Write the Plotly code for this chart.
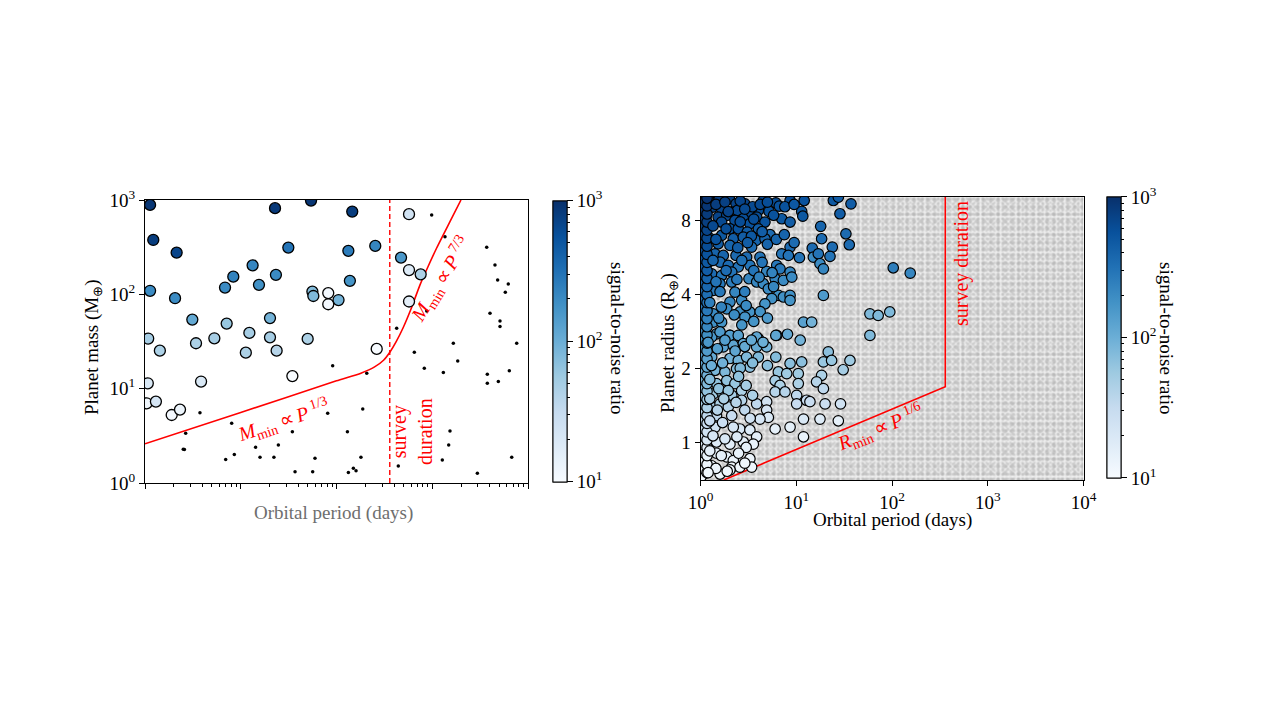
import numpy as np
import plotly.graph_objects as go
import plotly.colors as pc

W, H = 1282, 717          # browser window
PAD = 8                   # default page margin of the html body
FW, FH = W - 2 * PAD, H - 2 * PAD
FONT = "Liberation Serif"
BLUES = pc.sequential.Blues

# ---- left panel: mass vs period (detected planets, coloured by SNR) ----
period_l = [1.13, 1.22, 2.14, 1.13, 2.06, 3.12, 6.85, 8.36, 13.3, 15.5, 23.3, 22.8,
            31.4, 54.2, 56.0, 57.3, 82.0, 82.0, 105, 133, 138, 146, 254, 572, 472,
            572, 757, 572, 1.08, 20.2, 7.13, 12.3, 20.2, 50.0, 1.43, 3.41, 5.3,
            11.3, 23.7, 263, 34.6, 3.85, 1.07, 1.04, 1.30, 1.9, 2.32]
mass_l = [887, 377, 277, 109, 91, 54, 118, 154, 203, 126, 161, 819,
          313, 985, 107, 96, 103, 78.5, 87, 289, 139, 753, 326, 707, 245,
          181, 163, 84, 34, 56, 49, 39, 35, 33.7, 25.3, 30.3, 34.2,
          24.1, 25.3, 26.4, 13.6, 11.9, 11.4, 7.0, 7.3, 5.26, 6.0]
snr_l = [900, 800, 700, 200, 200, 110, 200, 230, 220, 180, 200, 850,
         300, 900, 75, 80, 11, 11, 90, 260, 170, 800, 220, 25, 160,
         18, 45, 16, 50, 90, 60, 50, 50, 45, 45, 45, 50,
         45, 40, 10, 10, 20, 20, 12, 22, 11, 13]

# undetected planets (small black points)
period_u = [2.66, 2.51, 2.58, 3.75, 6.96, 8.04, 8.57, 14.3, 15.9, 22.2, 24.7, 34.6,
            36.9, 56.4, 59.6, 80.9, 91.2, 130, 133, 150, 160, 180, 188, 207,
            442, 650, 826, 1274, 1306, 1485, 1532, 1660, 1845, 2958, 3760, 3760,
            4900, 6380, 6760, 7620, 986, 1358, 3705, 4519, 4820, 6220, 5793, 875,
            425, 4010, 5100, 5100]
mass_u = [3.37, 2.28, 2.27, 5.56, 1.78, 4.3, 2.01, 2.39, 1.87, 1.87, 2.53, 3.5,
          1.32, 1.32, 1.83, 5.48, 17.5, 3.5, 1.29, 1.43, 1.35, 1.87, 6.1, 14.6,
          1.51, 24.3, 16.5, 1.75, 14.8, 2.53, 3.56, 30.3, 19.7, 1.27, 14.2, 11.4,
          11.9, 15.5, 1.87, 30.3, 695, 409, 316, 205, 142, 129, 105, 66.7,
          43.7, 63, 52, 45.5]

# detection limit
limit_p = [1, 10, 100, 180, 250, 310, 362, 420, 495, 600, 745, 900, 1112, 1531, 1995]
limit_m = [2.6, 5.6, 12.1, 14.6, 17.0, 20.0, 24.5, 31.5, 44, 70, 126, 195, 310, 590, 1000]
survey_days = 360

# ---- right panel: radius vs period ----
period_r = [1.24, 1.56, 2.0, 2.35, 2.91, 4.53, 6.12, 8.62, 12.1, 24.4, 27.5, 37.3,
            1.11, 1.34, 1.66, 2.12, 2.43, 3.23, 4.02, 5.2, 6.65, 11.4, 11.7, 28.6,
            1.14, 1.53, 1.88, 2.8, 3.86, 4.71,
            1.21, 1.66, 2.29, 3.28, 7.05, 8.62, 18.0, 1.07, 2.03, 2.48, 3.08, 4.02,
            5.33, 33.0,
            1.24, 1.66, 2.2, 2.8, 3.8, 4.71, 18.4, 35.8, 1.11, 1.53, 2.03, 3.42,
            8.62, 14.7, 23.8,
            1.16, 1.42, 1.73, 2.35, 3.03, 4.18, 7.05, 8.28, 10.8, 15.1, 17.0, 22.5,
            6.25, 17.7, 19.2, 1.21, 1.60, 1.95, 2.48, 3.28, 4.91, 6.77, 8.62, 103,
            155,
            1.07, 1.31, 1.66, 2.12, 3.21, 3.86, 4.53, 5.11, 6.02, 7.34, 8.98, 1.21,
            1.60, 2.12,
            1.36, 2.29, 6.5, 7.34, 8.62, 19.2, 1.07, 2.03, 2.69, 5.55, 8.62,
            1.07, 1.36, 1.88, 2.58, 3.28, 2.91, 4.71, 1.36, 1.66, 11.9, 14.5, 58.8,
            71.7, 94.8, 1.07, 1.47, 2.03, 4.02, 6.25, 11.0,
            1.07, 1.31, 1.60, 2.03, 2.48, 3.86, 6.12, 8.1, 58.8, 1.21, 1.73, 2.20,
            2.80, 3.86, 4.91, 21.6, 1.03,
            1.31, 2.03, 2.48, 3.03, 4.02, 6.12, 8.62, 11.4, 19.2, 23.4, 36.4, 30.9,
            1.11, 1.42, 1.80, 2.38, 3.28, 6.5, 7.95, 10.5, 18.4,
            1.11, 1.47, 1.88, 2.29, 6.02, 6.77, 10.5, 16.3, 19.2, 1.07, 1.36, 1.66,
            2.12, 2.69, 6.02, 7.63, 10.1, 12.8, 13.9, 20.0, 29.0,
            1.11, 1.31, 1.60, 1.95, 2.69, 3.86, 4.91, 10.1, 11.9, 17.7, 27.5, 1.47,
            2.12, 4.91, 5.11, 4.18, 6.02, 8.62, 11.9,
            1.07, 1.42, 2.58, 3.28, 3.86, 1.07, 1.47, 2.03, 2.8, 3.56, 1.16, 1.47,
            1.88, 2.20, 3.28, 3.42, 1.31, 1.60, 2.12, 2.58, 1.07, 2.03,
            1.01, 1.01, 1.01, 1.01, 1.01, 1.01, 1.01, 1.01, 1.01, 1.01, 1.01, 1.01,
            1.01, 1.01, 1.01, 1.01, 1.01, 1.01, 1.01, 1.01, 1.01, 1.01, 1.01, 1.01,
            1.01, 1.01, 1.01, 1.01, 1.01, 1.01, 1.01, 1.01, 1.01, 1.01, 1.01,
            1.17, 1.17, 1.17, 1.17, 1.17, 1.17, 1.17, 1.17, 1.17, 1.17, 1.17, 1.17,
            1.17, 1.17, 1.17, 1.17, 1.17, 1.17, 1.17, 1.17, 1.17, 1.17, 1.17, 1.17,
            1.17, 1.17, 1.17, 1.17, 1.17, 1.17, 1.17, 1.17, 1.17, 1.17, 1.17,
            1.45, 1.8, 2.6, 3.5, 4.2, 5.0, 1.95, 2.9, 3.6, 5.8, 7.6, 9.5,
            1.35, 1.85, 2.6, 3.4, 4.4, 5.0, 1.45, 2.45, 3.1, 6.2, 7.5, 9.5,
            1.35, 1.85, 2.7, 3.6, 4.4, 1.45, 2.4, 2.9, 4.1, 5.6, 5.8, 1.6,
            1.25, 1.65, 2.25, 3.0, 3.6, 4.2, 1.55, 2.7, 5.0,
            1.2, 1.5, 1.8, 2.3, 2.9, 3.4, 4.5, 1.3, 1.7, 2.6, 3.5, 5.0,
            1.25, 1.55, 1.95, 2.5, 3.0, 3.5, 1.25, 1.75, 2.35, 2.9, 1.5, 3.3,
            1.25, 1.7, 2.2, 1.35, 1.8, 2.4, 3.0, 1.25, 1.65, 2.5, 1.45, 1.9, 2.9, 1.2]
radius_r = [9.65, 9.74, 9.8, 9.35, 9.35, 9.65, 9.44, 9.65, 9.65, 9.65, 9.95, 9.35,
            8.98, 9.06, 8.93, 8.65, 8.79, 8.52, 8.79, 8.71, 9.15, 8.71, 8.33, 8.52,
            8.26, 8.26, 8.39, 8.13, 8.26, 7.88,
            7.64, 7.88, 8.0, 7.76, 8.13, 7.88, 7.57, 7.17, 7.40, 7.40, 7.17, 7.40,
            7.0, 7.06,
            6.78, 6.95, 6.74, 6.84, 6.63, 6.74, 6.74, 6.37, 6.33, 6.43, 6.33, 6.23,
            6.23, 6.17, 6.23,
            5.85, 5.85, 5.76, 5.76, 5.67, 5.67, 5.85, 5.76, 5.64, 5.67, 5.85, 5.71,
            5.25, 5.33, 5.08, 5.41, 5.41, 5.25, 5.17, 5.25, 4.96, 5.08, 4.93, 5.13,
            4.88,
            4.77, 4.85, 4.77, 4.93, 4.63, 4.49, 4.42, 4.21, 4.63, 4.56, 4.70, 4.35,
            4.42, 4.49,
            4.15, 4.08, 3.96, 3.90, 3.96, 3.96, 3.84, 3.72, 3.78, 3.84, 3.78,
            3.39, 3.33, 3.49, 3.39, 3.39, 3.23, 3.66, 3.08, 3.08, 3.08, 3.08, 3.33,
            3.28, 3.39, 2.90, 2.76, 2.72, 2.64, 2.72, 2.60,
            2.76, 2.68, 2.81, 2.72, 2.72, 2.68, 2.72, 2.75, 2.72, 2.44, 2.44, 2.48,
            2.52, 2.44, 2.44, 2.33, 2.25,
            2.22, 2.19, 2.15, 2.22, 2.22, 2.22, 2.09, 2.12, 2.12, 2.15, 2.15, 1.97,
            1.93, 1.96, 1.93, 1.99, 2.02, 1.93, 1.90, 1.90, 1.87,
            1.76, 1.73, 1.78, 1.73, 1.78, 1.70, 1.73, 1.76, 1.65, 1.57, 1.57, 1.60,
            1.55, 1.62, 1.60, 1.60, 1.55, 1.48, 1.46, 1.43, 1.43,
            1.46, 1.39, 1.43, 1.39, 1.48, 1.43, 1.46, 1.43, 1.24, 1.24, 1.22, 1.28,
            1.28, 1.35, 1.26, 1.24, 1.13, 1.15, 1.05,
            1.15, 1.15, 1.13, 1.12, 1.05, 0.97, 1.0, 0.98, 1.0, 0.98, 0.88, 0.90,
            0.87, 0.84, 0.855, 0.79, 0.80, 0.74, 0.79, 0.79, 0.74, 0.77,
            0.72, 0.78, 0.84, 0.91, 0.98, 1.06, 1.14, 1.23, 1.33, 1.43, 1.55, 1.67,
            1.80, 1.94, 2.10, 2.26, 2.44, 2.63, 2.84, 3.06, 3.30, 3.56, 3.84, 4.14,
            4.47, 4.82, 5.20, 5.60, 6.05, 6.50, 7.00, 7.60, 8.20, 8.80, 9.50,
            0.75, 0.81, 0.88, 0.95, 1.02, 1.10, 1.19, 1.28, 1.38, 1.49, 1.61, 1.73,
            1.87, 2.02, 2.18, 2.35, 2.53, 2.73, 2.95, 3.18, 3.43, 3.70, 3.99, 4.30,
            4.64, 5.00, 5.40, 5.82, 6.28, 6.77, 7.30, 7.88, 8.50, 9.17, 9.85,
            9.3, 9.5, 9.6, 9.1, 9.3, 9.5, 8.7, 8.9, 8.1, 8.4, 9.1, 9.3,
            7.6, 7.4, 7.9, 6.9, 7.2, 6.4, 6.7, 6.2, 6.5, 6.7, 7.0, 6.5,
            5.5, 5.0, 5.5, 5.0, 5.4, 4.5, 4.6, 4.1, 4.7, 4.9, 4.3, 4.1,
            3.7, 3.55, 3.3, 3.6, 3.1, 3.4, 3.2, 3.0, 3.2,
            2.55, 2.4, 2.6, 2.35, 2.45, 2.6, 2.55, 2.05, 2.1, 2.0, 2.1, 2.05,
            1.8, 1.65, 1.62, 1.85, 1.7, 1.55, 1.5, 1.5, 1.45, 1.35, 1.35, 1.25,
            1.22, 1.2, 1.15, 1.06, 1.03, 1.05, 0.95, 0.92, 0.88, 0.9, 0.78, 0.76, 0.82, 0.75]
snr_r = [800, 800, 750, 700, 700, 650, 600, 600, 550, 500, 450, 450,
         800, 750, 700, 700, 650, 650, 600, 550, 550, 500, 500, 450,
         750, 700, 650, 600, 600, 550,
         700, 650, 600, 550, 500, 450, 400, 650, 550, 550, 450, 450,
         350, 350,
         600, 500, 450, 450, 400, 400, 350, 350, 600, 450, 400, 350,
         350, 350, 350,
         450, 400, 400, 350, 350, 300, 300, 300, 300, 200, 300, 300,
         280, 200, 220, 400, 350, 350, 300, 300, 220, 280, 220, 250,
         220,
         300, 350, 300, 300, 220, 220, 200, 200, 220, 200, 200, 280,
         280, 250,
         280, 220, 180, 180, 180, 150, 250, 220, 200, 180, 170,
         220, 200, 200, 180, 170, 170, 170, 180, 170, 130, 90, 80,
         80, 80, 180, 160, 150, 130, 130, 90,
         170, 160, 150, 140, 130, 120, 120, 110, 80, 140, 130, 120,
         110, 110, 90, 70, 150,
         110, 90, 90, 80, 80, 75, 70, 70, 60, 60, 55, 50,
         90, 85, 80, 75, 70, 60, 55, 55, 45,
         70, 65, 65, 60, 50, 45, 45, 40, 35, 60, 55, 55,
         50, 45, 40, 40, 35, 30, 30, 28, 25,
         50, 45, 45, 40, 40, 35, 25, 30, 20, 18, 15, 35,
         30, 22, 20, 22, 15, 15, 14,
         25, 25, 20, 18, 16, 20, 18, 16, 15, 14, 16, 15,
         14, 13, 13, 12, 13, 12, 12, 12, 12, 12,
         12, 13, 14, 16, 18, 22, 28, 34, 40, 48, 60, 75,
         90, 105, 120, 140, 160, 180, 200, 230, 260, 290, 320, 360,
         400, 440, 480, 530, 580, 640, 700, 760, 820, 880, 950,
         12, 13, 14, 16, 20, 24, 30, 36, 44, 52, 64, 78,
         95, 110, 125, 145, 165, 185, 210, 240, 270, 300, 330, 370,
         410, 450, 490, 540, 600, 650, 710, 770, 830, 900, 960,
         800, 750, 700, 650, 650, 600, 700, 650, 600, 550, 550, 500,
         650, 600, 600, 500, 450, 400, 550, 450, 450, 400, 400, 350,
         400, 350, 330, 300, 300, 300, 280, 250, 240, 230, 220, 280,
         250, 230, 200, 200, 170, 170, 200, 170, 150,
         160, 140, 140, 120, 110, 110, 100, 100, 95, 80, 75, 70,
         75, 65, 60, 65, 50, 45, 50, 45, 40, 35, 40, 25,
         30, 28, 22, 22, 20, 18, 15, 16, 15, 14, 13, 12, 12, 12]

radius_limit_p = [1.75, survey_days, survey_days]
radius_limit_r = [0.7, 1.68, 10]

P_RANGE = [1, 1e4]
R_RANGE = [0.7, 10]


def at(x, y):
    """pixel position in the browser window -> paper coordinates of the figure"""
    return (x - PAD) / FW, 1 - (y - PAD) / FH


def pow10(n):
    return f"10<sup>{n}</sup>"


fig = go.Figure()

# left panel
fig.add_trace(go.Scatter(x=period_u, y=mass_u, mode="markers", xaxis="x", yaxis="y",
                         marker=dict(size=3.5, color="black"), hoverinfo="skip"))
fig.add_trace(go.Scatter(x=limit_p, y=limit_m, mode="lines", xaxis="x", yaxis="y",
                         line=dict(color="red", width=1.6, shape="spline", smoothing=0.6)))
fig.add_trace(go.Scatter(x=[survey_days, survey_days], y=[1, 1000], mode="lines",
                         xaxis="x", yaxis="y",
                         line=dict(color="red", width=1.4, dash="5px,3px")))
fig.add_trace(go.Scatter(x=period_l, y=mass_l, mode="markers", xaxis="x", yaxis="y",
                         marker=dict(size=11, color=np.log10(snr_l), coloraxis="coloraxis",
                                     line=dict(color="black", width=1.3))))

# right panel: grey speckled background (overlaid dot patterns of different pitch)
box_x = [P_RANGE[0], P_RANGE[1], P_RANGE[1], P_RANGE[0], P_RANGE[0]]
box_y = [R_RANGE[0], R_RANGE[0], R_RANGE[1], R_RANGE[1], R_RANGE[0]]
textures = [("#bdbdbd", "#eeeeee", 4, 0.4), ("#a4a4a4", "rgba(0,0,0,0)", 7, 0.3),
            ("#b0b0b0", "rgba(0,0,0,0)", 5, 0.25)]
for fg, bg, size, solid in textures:
    fig.add_trace(go.Scatter(x=box_x, y=box_y, mode="lines", xaxis="x2", yaxis="y2",
                             fill="toself", line=dict(width=0), fillcolor="rgba(0,0,0,0)",
                             fillpattern=dict(shape=".", fgcolor=fg, bgcolor=bg,
                                              size=size, solidity=solid),
                             hoverinfo="skip"))
fig.add_trace(go.Scatter(x=radius_limit_p, y=radius_limit_r, mode="lines",
                         xaxis="x2", yaxis="y2", line=dict(color="red", width=1.6)))
fig.add_trace(go.Scatter(x=period_r, y=radius_r, mode="markers", xaxis="x2", yaxis="y2",
                         marker=dict(size=10.5, color=np.log10(snr_r), coloraxis="coloraxis2",
                                     line=dict(color="black", width=1.2))))

# empty traces that only carry a second colour bar each (minor ticks)
for cax, xa, ya in [("coloraxis3", "x", "y"), ("coloraxis4", "x2", "y2")]:
    fig.add_trace(go.Scatter(x=[None], y=[None], mode="markers", xaxis=xa, yaxis=ya,
                             marker=dict(color=[2], coloraxis=cax), hoverinfo="skip"))

tick_font = dict(family=FONT, size=19, color="black")
axis_common = dict(type="log", showgrid=False, zeroline=False, showline=True,
                   linecolor="black", linewidth=1, mirror=True, ticks="outside",
                   tickcolor="black", ticklen=5, tickfont=tick_font)

cbar_common = dict(xanchor="left", xpad=0, ypad=0, yanchor="middle", thickness=14,
                   lenmode="fraction", outlinecolor="black", outlinewidth=1,
                   ticks="outside", tickcolor="black", tickfont=tick_font)
cbar_major = dict(cbar_common, tickvals=[1, 2, 3], ticklen=6,
                  ticktext=[pow10(1), pow10(2), pow10(3)])
minor_vals = [e + np.log10(k) for e in (1, 2) for k in range(2, 10)]
cbar_minor = dict(cbar_common, tickvals=minor_vals, ticktext=[""] * len(minor_vals),
                  ticklen=3)

x1a, y1b = at(145, 483)
x1b, y1a = at(528, 200)
x2a, y2b = at(700.5, 480)
x2b, y2a = at(1083.5, 196.7)
cb1x, cb1y = at(553, 341.2)
cb2x, cb2y = at(1107, 337.4)

fig.update_layout(
    width=FW, height=FH,
    margin=dict(l=0, r=0, t=0, b=0, autoexpand=False),
    paper_bgcolor="white", plot_bgcolor="white",
    showlegend=False,
    font=dict(family=FONT, color="black"),
    xaxis=dict(axis_common, domain=[x1a, x1b], anchor="y", range=[0, 4],
               tickvals=[1, 10, 100, 1000, 10000], showticklabels=False,
               minor=dict(ticks="outside", ticklen=3, tickcolor="black", dtick="D1")),
    yaxis=dict(axis_common, domain=[y1b, y1a], anchor="x", range=[0, 3],
               tickvals=[1, 10, 100, 1000], ticktext=[pow10(i) for i in range(4)]),
    xaxis2=dict(axis_common, domain=[x2a, x2b], anchor="y2", range=[0, 4],
                tickvals=[1, 10, 100, 1000, 10000], ticktext=[pow10(i) for i in range(5)]),
    yaxis2=dict(axis_common, domain=[y2b, y2a], anchor="x2",
                range=[np.log10(R_RANGE[0]), np.log10(R_RANGE[1])],
                tickvals=[1, 2, 4, 8], ticktext=["1", "2", "4", "8"]),
    coloraxis=dict(colorscale=BLUES, cmin=1, cmax=3,
                   colorbar=dict(cbar_major, x=cb1x, y=cb1y, len=281 / FH)),
    coloraxis2=dict(colorscale=BLUES, cmin=1, cmax=3,
                    colorbar=dict(cbar_major, x=cb2x, y=cb2y, len=281.3 / FH)),
    coloraxis3=dict(colorscale=BLUES, cmin=1, cmax=3,
                    colorbar=dict(cbar_minor, x=cb1x, y=cb1y, len=281 / FH)),
    coloraxis4=dict(colorscale=BLUES, cmin=1, cmax=3,
                    colorbar=dict(cbar_minor, x=cb2x, y=cb2y, len=281.3 / FH)),
)

red = dict(family=FONT, size=20, color="red")
black = dict(family=FONT, size=19, color="black")
notes = [
    (93, 347, "Planet mass (M<sub>⊕</sub>)", -90, black),
    (334, 513, "Orbital period (days)", 0, dict(family=FONT, size=19, color="#6e6e6e")),
    (618, 338, "signal-to-noise ratio", 90, black),
    (669, 343, "Planet radius (R<sub>⊕</sub>)", -90, black),
    (892, 520, "Orbital period (days)", 0, black),
    (1167, 338, "signal-to-noise ratio", 90, black),
    (283, 421, "<i>M</i><sub>min</sub>&#8201;∝&#8201;<i>P</i><sup> 1/3</sup>", -18, red),
    (441, 280, "<i>M</i><sub>min</sub>&#8201;∝&#8201;<i>P</i><sup> 7/3</sup>", -58, red),
    (412, 432, "survey<br>duration", -90, red),
    (880, 428, "<i>R</i><sub>min</sub>&#8201;∝&#8201;<i>P</i><sup> 1/6</sup>", -22, red),
    (961, 264, "survey duration", -90, red),
]
for x, y, text, angle, font in notes:
    xp, yp = at(x, y)
    fig.add_annotation(x=xp, y=yp, xref="paper", yref="paper", text=text,
                       textangle=angle, showarrow=False, font=font,
                       xanchor="center", yanchor="middle")

fig.write_html("out.html")
